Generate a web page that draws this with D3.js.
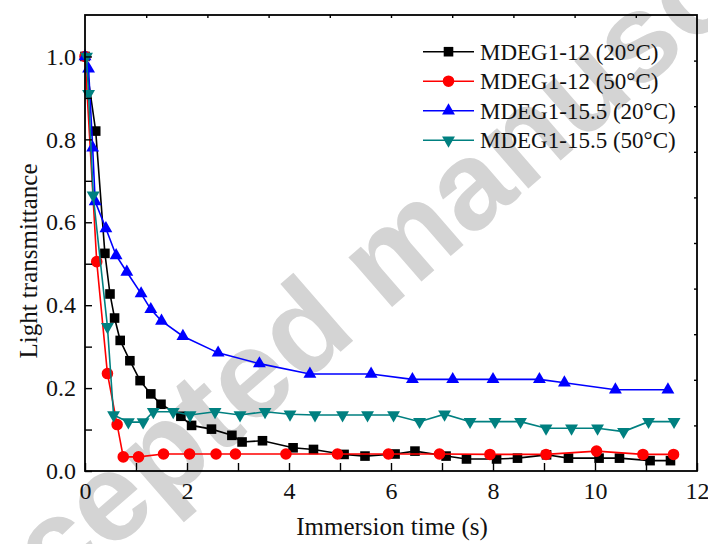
<!DOCTYPE html>
<html>
<head>
<meta charset="utf-8">
<script src="https://cdn.jsdelivr.net/npm/d3@7"></script>
<style>
  html, body { margin: 0; padding: 0; background: #fff; }
  svg { display: block; }
</style>
</head>
<body>
<svg id="chart" width="708" height="544"></svg>
<script>
// Immersion time (s) and light transmittance for each sample / temperature
const seriesNames = ["MDEG1-12 (20°C)", "MDEG1-12 (50°C)", "MDEG1-15.5 (20°C)", "MDEG1-15.5 (50°C)"];
const seriesColors = ["#000000", "#ff0000", "#0000ff", "#008080"];
const seriesSymbols = ["square", "circle", "triangleUp", "triangleDown"];

const timeA = [0, 0.21, 0.39, 0.49, 0.58, 0.69, 0.88, 1.08, 1.29, 1.49, 1.88, 2.09, 2.48, 2.88, 3.08, 3.48, 4.08, 4.48, 5.08, 5.49, 6.08, 6.47, 7.08, 7.48, 8.07, 8.48, 9.05, 9.48, 10.08, 10.48, 11.08, 11.48];
const transA = [1.0, 0.82, 0.525, 0.427, 0.369, 0.315, 0.266, 0.218, 0.186, 0.161, 0.132, 0.11, 0.101, 0.086, 0.07, 0.073, 0.056, 0.052, 0.04, 0.036, 0.041, 0.048, 0.036, 0.029, 0.029, 0.031, 0.039, 0.031, 0.031, 0.031, 0.025, 0.025];

const timeB = [0, 0.23, 0.44, 0.63, 0.75, 1.05, 1.54, 2.05, 2.57, 2.95, 3.94, 4.95, 5.95, 6.95, 7.94, 9.04, 10.03, 10.94, 11.54];
const transB = [1.0, 0.505, 0.235, 0.112, 0.034, 0.034, 0.041, 0.041, 0.041, 0.041, 0.041, 0.041, 0.041, 0.041, 0.040, 0.040, 0.048, 0.040, 0.040];

const timeC = [0, 0.07, 0.15, 0.2, 0.41, 0.61, 0.82, 1.10, 1.29, 1.50, 1.92, 2.61, 3.42, 4.41, 5.61, 6.42, 7.21, 8.0, 8.91, 9.40, 10.4, 11.43];
const transC = [1.0, 0.97, 0.78, 0.65, 0.585, 0.52, 0.48, 0.428, 0.39, 0.362, 0.325, 0.285, 0.259, 0.234, 0.234, 0.221, 0.221, 0.221, 0.221, 0.213, 0.196, 0.196];

const timeD = [0.03, 0.07, 0.16, 0.44, 0.56, 0.85, 1.14, 1.34, 1.73, 2.06, 2.55, 3.04, 3.53, 4.02, 4.51, 5.05, 5.54, 6.05, 6.56, 7.05, 7.55, 8.04, 8.54, 9.04, 9.54, 10.05, 10.56, 11.05, 11.55];
const transD = [1.0, 0.91, 0.665, 0.348, 0.135, 0.118, 0.118, 0.143, 0.143, 0.135, 0.143, 0.135, 0.143, 0.137, 0.135, 0.135, 0.135, 0.135, 0.119, 0.137, 0.119, 0.119, 0.119, 0.103, 0.103, 0.103, 0.095, 0.119, 0.119];

const xMajorTicks = [0, 2, 4, 6, 8, 10, 12];
const xMinorTicks = [1, 3, 5, 7, 9, 11];
const yMajorTicks = [0, 0.2, 0.4, 0.6, 0.8, 1.0];
const yMinorTicks = [0.1, 0.3, 0.5, 0.7, 0.9];

const xTitle = "Immersion time (s)";
const yTitle = "Light transmittance";
const stampText = "Accepted manuscript";

const timeSeries = [timeA, timeB, timeC, timeD];
const transSeries = [transA, transB, transC, transD];

// ---- layout ----
const svg = d3.select("#chart");
const plotL = 85, plotR = 697, plotT = 15, plotB = 471;
const x = d3.scaleLinear().domain([0, 12]).range([plotL, plotR]);
const y = d3.scaleLinear().domain([0, 1.1]).range([plotB, plotT]);
const serif = "'Liberation Serif', 'Times New Roman', serif";

// Diagonal stamp behind the plot
svg.append("text")
  .attr("transform", "translate(392,262) rotate(-41)")
  .attr("text-anchor", "middle")
  .attr("y", 34)
  .attr("font-family", "'Liberation Sans', Arial, sans-serif")
  .attr("font-weight", "bold")
  .attr("font-size", 125)
  .attr("fill", "#d4d4d4")
  .text(stampText);

// ---- series ----
function symbolPath(kind) {
  if (kind === "square") return d3.symbol(d3.symbolSquare, 92)();
  if (kind === "circle") return d3.symbol(d3.symbolCircle, 105)();
  return d3.symbol(d3.symbolTriangle, 72)();
}
function symbolTransform(kind, px, py) {
  if (kind === "triangleDown") return `translate(${px},${py}) rotate(180)`;
  return `translate(${px},${py})`;
}

const line = d3.line().x(d => x(d[0])).y(d => y(d[1]));
const plot = svg.append("g");
seriesNames.forEach((name, i) => {
  const pts = timeSeries[i].map((t, k) => [t, transSeries[i][k]]);
  const g = plot.append("g");
  g.append("path")
    .attr("d", line(pts))
    .attr("fill", "none")
    .attr("stroke", seriesColors[i])
    .attr("stroke-width", 1.6);
  g.selectAll("path.m").data(pts).enter().append("path")
    .attr("class", "m")
    .attr("d", symbolPath(seriesSymbols[i]))
    .attr("transform", d => symbolTransform(seriesSymbols[i], x(d[0]), y(d[1])))
    .attr("fill", seriesColors[i]);
});

// ---- axes ----
const axisStyle = g => {
  g.selectAll(".domain").remove();
  g.selectAll("line").attr("stroke", "#000").attr("stroke-width", 1.4);
  g.selectAll("text").attr("font-family", serif).attr("font-size", 24).attr("fill", "#111");
};

svg.append("g").attr("transform", `translate(0,${plotB})`)
  .call(d3.axisBottom(x).tickValues(xMajorTicks).tickFormat(d3.format("d")).tickSizeInner(-8).tickSizeOuter(0).tickPadding(11))
  .call(axisStyle);
svg.append("g").attr("transform", `translate(0,${plotB})`)
  .call(d3.axisBottom(x).tickValues(xMinorTicks).tickFormat("").tickSizeInner(-8).tickSizeOuter(0))
  .call(axisStyle);

svg.append("g").attr("transform", `translate(${plotL},0)`)
  .call(d3.axisLeft(y).tickValues(yMajorTicks).tickFormat(d3.format(".1f")).tickSizeInner(-7).tickSizeOuter(0).tickPadding(9))
  .call(axisStyle);
svg.append("g").attr("transform", `translate(${plotL},0)`)
  .call(d3.axisLeft(y).tickValues(yMinorTicks).tickFormat("").tickSizeInner(-7).tickSizeOuter(0))
  .call(axisStyle);

// mirrored axes: ten even divisions each
svg.append("g").attr("transform", `translate(0,${plotT})`)
  .call(d3.axisTop(x).tickValues(d3.range(1, 10).map(k => k * 1.2)).tickFormat("").tickSizeInner(-3).tickSizeOuter(0))
  .call(axisStyle);
svg.append("g").attr("transform", `translate(${plotR},0)`)
  .call(d3.axisRight(y).tickValues(d3.range(1, 10).map(k => k * 0.11)).tickFormat("").tickSizeInner(-3).tickSizeOuter(0))
  .call(axisStyle);

// frame
svg.append("rect")
  .attr("x", plotL).attr("y", plotT)
  .attr("width", plotR - plotL).attr("height", plotB - plotT)
  .attr("fill", "none").attr("stroke", "#000").attr("stroke-width", 1.8);

// titles
svg.append("text")
  .attr("x", 392).attr("y", 535)
  .attr("text-anchor", "middle")
  .attr("font-family", serif).attr("font-size", 25).attr("fill", "#111")
  .text(xTitle);
svg.append("text")
  .attr("transform", "translate(37,261) rotate(-90)")
  .attr("text-anchor", "middle")
  .attr("font-family", serif).attr("font-size", 25).attr("fill", "#111")
  .text(yTitle);

// ---- legend ----
const legend = svg.append("g");
const rowY = [51.7, 81.2, 110.7, 140.2];
seriesNames.forEach((name, i) => {
  const ly = rowY[i];
  legend.append("line")
    .attr("x1", 423).attr("x2", 474).attr("y1", ly).attr("y2", ly)
    .attr("stroke", seriesColors[i]).attr("stroke-width", 1.6);
  legend.append("path")
    .attr("d", symbolPath(seriesSymbols[i]))
    .attr("transform", symbolTransform(seriesSymbols[i], 448.5, ly))
    .attr("fill", seriesColors[i]);
  legend.append("text")
    .attr("x", 480).attr("y", ly + 8)
    .attr("font-family", serif).attr("font-size", 23).attr("fill", "#111")
    .text(name);
});
</script>
</body>
</html>
